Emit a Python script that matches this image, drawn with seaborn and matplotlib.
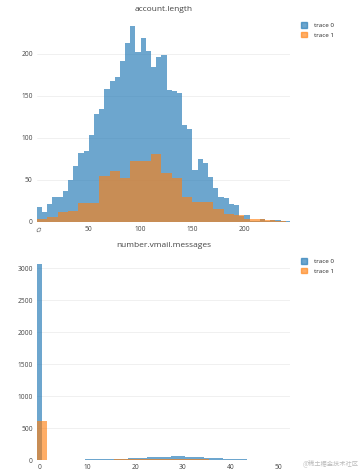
import numpy as np
import pandas as pd
import seaborn as sns
import matplotlib.pyplot as plt
from matplotlib.patches import Patch

# account.length histogram (counts)
acct_edges_0 = list(range(0, 250, 5))
acct_counts_0 = [18, 12, 21, 30, 30, 37, 50, 67, 82, 84,
                 104, 128, 135, 158, 168, 173, 192, 213, 233, 202,
                 219, 204, 185, 196, 199, 157, 156, 154, 116, 111,
                 62, 75, 70, 54, 41, 30, 29, 21, 20, 7,
                 8, 1, 1, 3, 1, 2, 2, 1, 1]
acct_edges_1 = list(range(0, 250, 10))
acct_counts_1 = [3, 6, 12, 13, 22, 23, 55, 61, 52, 72, 72, 81,
                 58, 52, 30, 24, 24, 16, 10, 8, 4, 3, 2, 1]

# number.vmail.messages histogram
vmail_edges_0 = [x - 0.5 for x in range(0, 53, 1)]
vmail_counts_0 = [3070, 0, 0, 0, 0, 0, 0, 0, 0, 0,
                  8, 10, 12, 11, 14, 15, 17, 18, 22, 26,
                  32, 35, 38, 43, 40, 48, 52, 54, 58, 55,
                  56, 50, 48, 45, 41, 35, 32, 27, 24, 19,
                  15, 13, 10, 8, 6, 5, 4, 3, 0, 0, 0, 0]
vmail_edges_1 = [x - 0.5 for x in range(0, 53, 2)]
vmail_counts_1 = [613, 0, 0, 0, 0, 5, 6, 7, 8, 9, 10, 11, 10,
                  11, 10, 9, 9, 8, 7, 6, 6, 5, 5, 4, 0, 0]

trace_names = ['trace 0', 'trace 1']
c0 = '#1f77b4'
c1 = '#ff7f0e'

sns.set_theme(style='white')
plt.rcParams['font.family'] = ['Open Sans', 'DejaVu Sans']

fig = plt.figure(figsize=(3.62, 4.72), dpi=100)
ax1 = fig.add_axes([0.102, 0.5297, 0.699, 0.4237])
ax2 = fig.add_axes([0.102, 0.0254, 0.699, 0.428])


def draw_hist(ax, edges0, counts0, edges1, counts1):
    centers0 = [(a + b) / 2 for a, b in zip(edges0[:-1], edges0[1:])]
    centers1 = [(a + b) / 2 for a, b in zip(edges1[:-1], edges1[1:])]
    df0 = pd.DataFrame({'x': centers0, 'n': counts0})
    df1 = pd.DataFrame({'x': centers1, 'n': counts1})
    sns.histplot(data=df0, x='x', weights='n', bins=edges0, ax=ax,
                 color=c0, alpha=0.65, linewidth=0, edgecolor='none')
    sns.histplot(data=df1, x='x', weights='n', bins=edges1, ax=ax,
                 color=c1, alpha=0.63, linewidth=0, edgecolor='none')
    ax.set(xlabel=None, ylabel=None)
    for s in ax.spines.values():
        s.set_visible(False)
    ax.grid(axis='y', color='#eeeeee', linewidth=0.6)
    ax.grid(axis='x', visible=False)
    ax.set_axisbelow(True)
    ax.tick_params(labelsize=4.8, colors='#444444', length=0, pad=3)
    # legend outside on the right
    handles = [Patch(color=c0, alpha=0.65), Patch(color=c1, alpha=0.63)]
    ax.legend(handles, trace_names, loc='upper left', bbox_to_anchor=(1.035, 1.01),
              frameon=False, fontsize=4.5, handlelength=0.9, handleheight=0.9,
              handletextpad=1.2, labelspacing=0.6, borderaxespad=0)


# top: account.length
draw_hist(ax1, acct_edges_0, acct_counts_0, acct_edges_1, acct_counts_1)
ax1.set_xlim(0, 244)
ax1.set_ylim(0, 238)
ax1.set_yticks([0, 50, 100, 150, 200])
ax1.set_xticks([0, 50, 100, 150, 200])
ax1.set_xticklabels(['0', '50', '100', '150', '200'])
ax1.get_xticklabels()[0].set_rotation(-45)
ax1.set_title('account.length', fontsize=6, color='#444444', pad=8)

# bottom: number.vmail.messages
draw_hist(ax2, vmail_edges_0, vmail_counts_0, vmail_edges_1, vmail_counts_1)
ax2.set_xlim(-0.6, 52.5)
ax2.set_ylim(0, 3160)
ax2.set_yticks([0, 500, 1000, 1500, 2000, 2500, 3000])
ax2.set_xticks([0, 10, 20, 30, 40, 50])
ax2.set_title('number.vmail.messages', fontsize=6, color='#444444', pad=8)

fig.text(0.99, 0.008, '@稀土掘金技术社区', fontsize=4.5, color='#bbbbbb', ha='right', va='bottom',
         family=['Noto Sans CJK SC', 'DejaVu Sans'])

plt.savefig('out.png', dpi=100)
